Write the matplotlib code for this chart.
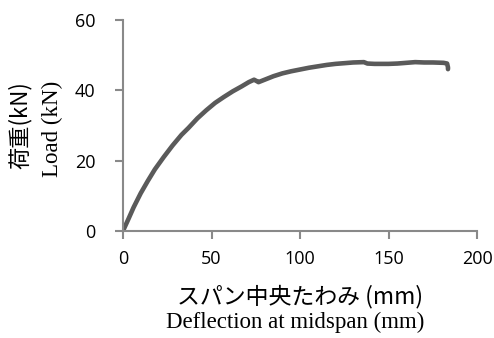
import numpy as np
import matplotlib.pyplot as plt

# deflection (mm) and load (kN)
defl = [0, 3, 6, 10, 14, 18, 23, 28, 33, 37, 42, 47, 52, 57, 62, 67, 71, 74, 75.5, 76.5,
        80, 85, 90, 95, 100, 105, 110, 115, 120, 125, 130, 136, 138, 142, 150, 155, 160,
        165, 170, 175, 181, 183, 183.5, 183.5]
load = [0, 3.3, 6.7, 10.7, 14.2, 17.5, 21.0, 24.3, 27.3, 29.3, 32.0, 34.3, 36.4, 38.1, 39.7, 41.1, 42.3, 43.0, 42.6, 42.3,
        43.0, 44.0, 44.8, 45.4, 45.9, 46.4, 46.8, 47.2, 47.5, 47.7, 47.9, 48.0, 47.6, 47.5, 47.5, 47.6, 47.8,
        48.0, 47.9, 47.9, 47.8, 47.6, 46.5, 46.0]

xticks = [0, 50, 100, 150, 200]
yticks = [0, 20, 40, 60]

spine = '#898989'
fig = plt.figure(figsize=(4.94, 3.38), dpi=100)
ax = fig.add_axes([0.249, 0.317, 0.717, 0.624])
ax.plot(defl, load, color='#5a5a5a', lw=3.3, solid_capstyle='round', solid_joinstyle='round')

ax.set_xlim(0, 200)
ax.set_ylim(0, 60)
ax.set_xticks(xticks)
ax.set_yticks(yticks)
for s in ['top', 'right']:
    ax.spines[s].set_visible(False)
for s in ['left', 'bottom']:
    ax.spines[s].set_color(spine)
    ax.spines[s].set_linewidth(1.5)
ax.tick_params(direction='out', length=6, width=1.5, color=spine, labelsize=13)
ax.tick_params(axis='y', pad=14)
ax.tick_params(axis='x', pad=8)
for lab in ax.get_xticklabels() + ax.get_yticklabels():
    lab.set_family('Open Sans')

jp = ['Noto Sans CJK JP', 'DejaVu Sans']
fig.text(0.607, 0.124, 'スパン中央たわみ (mm)', ha='center', va='center', fontsize=16.5, family=jp)
fig.text(0.598, 0.030, 'Deflection at midspan (mm)', ha='center', va='baseline', fontsize=16.5, family='Liberation Serif')
fig.text(0.040, 0.630, '荷重(kN)', ha='center', va='center', rotation=90, fontsize=16, family=jp)
fig.text(0.107, 0.618, 'Load (kN)', ha='center', va='center', rotation=90, fontsize=16.5, family='Liberation Serif')

fig.savefig('out.png', dpi=100)
